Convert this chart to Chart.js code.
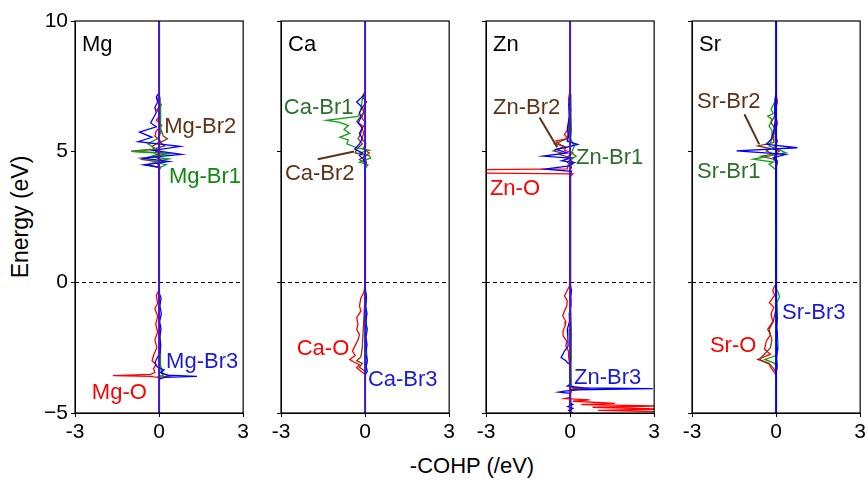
<!DOCTYPE html>
<html>
<head>
<meta charset="utf-8">
<script src="https://cdn.jsdelivr.net/npm/chart.js@4/dist/chart.umd.min.js"></script>
<style>
    body { margin: 0; background: #fff; overflow: hidden; }
    #root { position: relative; width: 868px; height: 483px; }
    #root canvas { position: absolute; top: 0; }
    .axis-title { position: absolute; font-family: 'Liberation Sans', Arial, sans-serif; color: #000; white-space: nowrap; }
</style>
</head>
<body>
<div id="root">
    <div class="axis-title" id="ytitle">Energy (eV)</div>
    <div class="axis-title" id="xtitle">-COHP (/eV)</div>
</div>
<script>
// axis ranges and tick labels
const energyMin = -5;
const energyMax = 10;
const energyTicks = [-5, 0, 5, 10];
const cohpMin = -3;
const cohpMax = 3;
const cohpTicks = [-3, 0, 3];

const panelNames = ['Mg', 'Ca', 'Zn', 'Sr'];

// each series: [energy (eV), -COHP (/eV)] pairs
const mgO = [[7.2,0],[7.0,-0.05],[6.8,0.08],[6.6,-0.08],[6.4,0.05],[6.2,-0.1],[6.0,0.1],[5.8,-0.1],[5.6,-0.15],[5.4,0.05],[5.2,-0.25],[5.0,-0.1],[4.9,0.2],[4.8,-0.15],[4.65,0.15],[4.5,-0.05],[4.38,0.05],[4.3,0],
    [-0.3,0],[-0.5,-0.1],[-0.8,-0.05],[-1.0,-0.15],[-1.3,-0.05],[-1.6,-0.12],[-1.9,-0.05],[-2.2,-0.15],[-2.5,-0.08],[-2.8,-0.2],[-3.0,-0.25],[-3.15,-0.1],[-3.3,-0.2],[-3.45,-0.15],[-3.52,-0.3],[-3.57,-1.65],[-3.6,-0.3],[-3.65,0],[-3.8,0]];
const mgBr1 = [[7.2,0],[6.8,0.05],[6.4,0.05],[6.0,0.05],[5.7,0.06],[5.5,-0.05],[5.3,-0.4],[5.1,-0.1],[5.0,-0.95],[4.92,0.35],[4.8,-0.3],[4.72,0.35],[4.6,-0.2],[4.5,0.25],[4.38,0],[4.3,0],
    [-0.5,0],[-2.0,0.03],[-3.2,0.05],[-3.55,0.15],[-3.62,-0.05],[-3.7,0]];
const mgBr2 = [[7.1,0],[6.5,0.03],[5.9,0.05],[5.6,0.15],[5.5,0.3],[5.35,0.05],[5.22,0.2],[5.1,-0.2],[5.02,-1.0],[4.95,0.1],[4.85,-0.2],[4.7,-0.6],[4.6,0.05],[4.5,-0.45],[4.4,0],[4.3,0],
    [-0.5,0],[-1.5,0.03],[-2.5,0.05],[-3.2,0.05],[-3.5,0.1],[-3.58,0.45],[-3.63,0.05],[-3.7,0]];
const mgBr3 = [[7.25,0],[7.1,-0.1],[6.9,-0.05],[6.7,-0.15],[6.5,-0.1],[6.3,-0.2],[6.1,-0.3],[5.95,-0.1],[5.75,-0.7],[5.55,-0.25],[5.38,-0.75],[5.2,0.75],[5.05,-0.2],[4.9,0.8],[4.75,-0.6],[4.62,0.35],[4.5,-0.55],[4.4,0],
    [-0.4,0],[-0.6,0.07],[-0.9,0.03],[-1.2,0.08],[-1.5,0.02],[-1.8,0.07],[-2.1,0.02],[-2.4,0.06],[-2.7,0.03],[-2.95,-0.1],[-3.1,-0.15],[-3.25,-0.05],[-3.35,0.18],[-3.45,0.05],[-3.55,0.3],[-3.6,1.35],[-3.64,0.2],[-3.7,0]];

const caO = [[7.3,0],[7.1,-0.1],[6.9,0.05],[6.7,-0.1],[6.5,-0.05],[6.3,-0.12],[6.1,0.02],[5.9,-0.1],[5.7,-0.05],[5.5,-0.12],[5.3,0.03],[5.1,-0.08],[4.95,0.15],[4.8,-0.05],[4.6,0.05],[4.4,0],
    [-0.15,0],[-0.4,-0.05],[-0.6,-0.15],[-0.9,-0.2],[-1.1,-0.15],[-1.35,-0.3],[-1.6,-0.25],[-1.8,-0.3],[-2.0,-0.2],[-2.2,-0.25],[-2.45,-0.37],[-2.63,-0.45],[-2.8,-0.35],[-2.95,-0.55],[-3.05,-0.4],[-3.15,-0.2],[-3.27,-0.3],[-3.4,-0.15],[-3.52,0]];
const caBr1 = [[7.3,0],[7.0,-0.1],[6.6,-0.15],[6.35,-0.25],[6.2,-1.38],[6.12,-0.9],[6.0,-0.6],[5.85,-0.75],[5.7,-0.55],[5.55,-0.9],[5.45,-0.6],[5.3,-0.65],[5.15,-0.3],[5.05,0.15],[4.95,-0.2],[4.85,0.15],[4.75,0.2],[4.6,-0.2],[4.5,0.1],[4.35,0],
    [-0.2,0],[-0.5,0.05],[-1.0,0.02],[-1.5,0.05],[-2.0,0.02],[-2.6,0.05],[-3.0,0.08],[-3.3,0.03],[-3.5,0]];
const caBr2 = [[7.0,0],[6.5,-0.05],[6.15,-0.3],[6.0,-0.1],[5.7,-0.15],[5.5,-0.25],[5.3,-0.1],[5.1,-0.3],[4.95,-0.35],[4.85,0.05],[4.7,-0.2],[4.55,0.05],[4.4,0],
    [-0.5,0],[-1.5,-0.05],[-2.5,-0.1],[-2.85,-0.15],[-3.0,-0.3],[-3.1,-0.1],[-3.25,-0.2],[-3.4,0]];
const caBr3 = [[7.2,0],[6.9,-0.3],[6.7,-0.1],[6.5,-0.2],[6.3,-0.15],[6.1,-0.25],[5.9,-0.1],[5.7,-0.2],[5.5,-0.1],[5.3,-0.2],[5.1,-0.37],[4.95,-0.1],[4.85,-0.2],[4.7,-0.05],[4.5,0],
    [-0.3,0],[-0.6,0.05],[-0.9,0.02],[-1.2,0.07],[-1.5,0.02],[-1.8,0.08],[-2.1,0.03],[-2.4,0.07],[-2.7,0.02],[-3.0,0.08],[-3.2,0.03],[-3.4,0.08],[-3.55,0]];

const znO = [[7.4,0],[7.0,-0.05],[6.6,0.03],[6.2,-0.05],[5.9,-0.05],[5.66,-0.2],[5.5,-0.1],[5.41,-0.5],[5.3,-0.4],[5.15,-0.15],[5.05,-0.2],[4.95,0.1],[4.8,-0.1],[4.6,0.1],[4.4,-0.1],[4.34,-0.1],[4.31,-3.3],[4.18,-3.3],[4.15,0.1],[4.05,0],
    [-0.1,0],[-0.3,-0.1],[-0.52,-0.2],[-0.7,-0.1],[-0.91,-0.12],[-1.1,-0.2],[-1.29,-0.26],[-1.5,-0.15],[-1.67,-0.18],[-1.85,-0.25],[-2.05,-0.25],[-2.25,-0.12],[-2.44,-0.15],[-2.65,-0.05],[-2.88,-0.05],[-3.2,0],[-3.9,0],[-4.03,0.1],[-4.06,0.7],[-4.1,0.05],[-4.4,0],[-4.45,-0.2],[-4.5,0.7],[-4.55,0.1],[-4.63,1.6],[-4.68,0.4],[-4.73,3.3],[-4.78,0.8],[-4.85,3.3],[-4.9,1.0],[-4.95,3.3],[-5.0,3.3]];
const znBr1 = [[7.2,0],[6.5,0.03],[5.8,0.05],[5.5,0.02],[5.2,0.15],[5.09,0.1],[4.95,0.05],[4.83,0.22],[4.7,0],[4.55,0.1],[4.4,0],
    [-0.2,0],[-1.5,0.03],[-2.9,0.05],[-3.1,0.02],[-4.0,0.05],[-4.1,0]];
const znBr2 = [[7.0,0],[6.0,-0.03],[5.5,-0.1],[5.3,-0.55],[5.2,-0.2],[5.03,-0.6],[4.95,-0.3],[4.9,-0.4],[4.75,0.1],[4.6,-0.1],[4.4,0.05],[4.3,0],
    [-0.2,0],[-1.0,0.03],[-2.0,0.05],[-3.0,0.03],[-3.95,0.02],[-4.05,0.3],[-4.1,0],[-4.9,0.05],[-5.0,0]];
const znBr3 = [[7.3,0],[6.8,-0.05],[6.3,-0.03],[5.9,-0.1],[5.6,-0.05],[5.4,-0.1],[5.28,0.27],[5.15,-0.2],[5.09,-0.5],[4.95,-0.1],[4.83,-0.96],[4.75,0],[4.65,-0.3],[4.58,0.15],[4.45,-0.1],[4.33,-0.9],[4.25,0.05],[4.1,0],
    [-0.1,0],[-0.3,0.05],[-0.6,0.02],[-0.9,0.03],[-1.2,-0.03],[-1.5,-0.02],[-1.8,-0.1],[-2.1,-0.08],[-2.44,-0.07],[-2.63,-0.2],[-2.88,-0.32],[-3.0,-0.15],[-3.07,-0.1],[-3.14,0],[-3.9,0],[-3.97,-0.1],[-4.04,0.5],[-4.07,2.95],[-4.11,0.3],[-4.16,-0.2],[-4.2,-0.41],[-4.25,0],[-4.6,0],[-4.68,0.1],[-4.75,-0.08],[-4.82,0.1],[-4.9,-0.05],[-5.0,0.1]];

const srO = [[7.2,0],[6.9,0.05],[6.5,-0.05],[6.1,0.05],[5.7,-0.05],[5.4,0.05],[5.1,-0.1],[5.03,0.12],[4.9,-0.05],[4.71,-0.06],[4.55,0.05],[4.4,0],
    [-0.1,0],[-0.14,-0.05],[-0.3,-0.12],[-0.5,-0.05],[-0.78,-0.24],[-0.95,-0.08],[-1.2,-0.18],[-1.5,-0.12],[-1.8,-0.3],[-2.0,-0.2],[-2.25,-0.35],[-2.56,-0.41],[-2.75,-0.2],[-2.95,-0.65],[-3.1,-0.25],[-3.25,-0.2],[-3.46,-0.05],[-3.55,0]];
const srBr1 = [[7.25,0],[6.9,-0.05],[6.62,-0.18],[6.45,-0.1],[6.36,-0.3],[6.24,-0.15],[6.1,-0.2],[5.98,-0.25],[5.79,-0.14],[5.6,-0.15],[5.54,-0.12],[5.35,-0.2],[5.22,-0.25],[5.1,0.05],[4.96,0.35],[4.85,-0.2],[4.71,-0.82],[4.6,-0.1],[4.52,-0.25],[4.39,-0.1],[4.3,0],
    [-0.1,0],[-0.14,-0.05],[-0.4,0.08],[-0.55,0.12],[-0.78,0.03],[-1.2,0.05],[-1.8,0.02],[-2.2,0.06],[-2.56,0.07],[-2.8,0],[-2.95,-0.4],[-3.1,-0.05],[-3.3,0.02],[-3.45,0]];
const srBr2 = [[7.2,0],[6.8,-0.05],[6.4,-0.03],[6.11,-0.18],[5.9,-0.05],[5.6,-0.1],[5.35,-0.08],[5.22,-0.65],[5.12,-0.2],[5.03,-0.35],[4.9,-0.1],[4.83,-0.53],[4.71,-0.1],[4.6,0],[4.4,0],
    [-1.0,0],[-1.5,-0.1],[-1.8,-0.25],[-2.2,-0.15],[-2.5,-0.2],[-2.95,-0.6],[-3.15,-0.2],[-3.35,-0.05],[-3.5,0]];
const srBr3 = [[7.25,0],[7.0,-0.03],[6.6,-0.05],[6.2,-0.03],[5.8,-0.08],[5.47,-0.18],[5.28,-0.35],[5.15,0.76],[5.03,-1.41],[4.9,0.35],[4.77,-0.1],[4.64,0.05],[4.5,0],
    [-0.5,0],[-0.8,0.03],[-1.1,0.01],[-1.4,0.04],[-1.7,0.02],[-2.0,0.05],[-2.3,0.02],[-2.6,0.05],[-2.9,0.02],[-3.2,0.04],[-3.5,0]];

const seriesByPanel = [
    { O: mgO, Br1: mgBr1, Br2: mgBr2, Br3: mgBr3 },
    { O: caO, Br1: caBr1, Br2: caBr2, Br3: caBr3 },
    { O: znO, Br1: znBr1, Br2: znBr2, Br3: znBr3 },
    { O: srO, Br1: srBr1, Br2: srBr2, Br3: srBr3 },
];

// styling / layout
const FONT = "'Liberation Sans', Arial, sans-serif";
const lineColors = { O: '#ff0000', Br2: '#7a3d12', Br1: '#10a010', Br3: '#0000ff' };
// chart.js paints dataset 0 last, so the top-most line comes first
const stackOrder = ['Br3', 'Br1', 'Br2', 'O'];
const zeroLineColors = ['#4a12d0', '#3a14dc', '#4a12d0', '#0000ff'];
const brown = '#5c3317';
const darkGreen = '#2c6e2c';
const plotLefts = [75, 281, 486, 692];
const plotWidth = 170;
const axisSpace = 45;

const notes = [
    [
        { text: 'Mg', color: '#000', x: -2.75, y: 9.1, size: 22 },
        { text: 'Mg-Br2', color: brown, x: 0.18, y: 5.93 },
        { text: 'Mg-Br1', color: '#128a12', x: 0.35, y: 4.02 },
        { text: 'Mg-Br3', color: '#1a1ad8', x: 0.25, y: -3.06 },
        { text: 'Mg-O', color: '#ff0000', x: -2.4, y: -4.25 },
    ],
    [
        { text: 'Ca', color: '#000', x: -2.75, y: 9.1, size: 22 },
        { text: 'Ca-Br1', color: darkGreen, x: -2.9, y: 6.66 },
        { text: 'Ca-Br2', color: brown, x: -2.86, y: 4.13 },
        { text: 'Ca-O', color: '#ff0000', x: -2.44, y: -2.53 },
        { text: 'Ca-Br3', color: '#1a1ad8', x: 0.1, y: -3.75 },
    ],
    [
        { text: 'Zn', color: '#000', x: -2.75, y: 9.1, size: 22 },
        { text: 'Zn-Br2', color: brown, x: -2.75, y: 6.66 },
        { text: 'Zn-Br1', color: darkGreen, x: 0.21, y: 4.75 },
        { text: 'Zn-O', color: '#ff0000', x: -2.86, y: 3.56 },
        { text: 'Zn-Br3', color: '#1a1ad8', x: 0.14, y: -3.64 },
    ],
    [
        { text: 'Sr', color: '#000', x: -2.75, y: 9.1, size: 22 },
        { text: 'Sr-Br2', color: brown, x: -2.82, y: 6.89 },
        { text: 'Sr-Br1', color: darkGreen, x: -2.82, y: 4.21 },
        { text: 'Sr-O', color: '#ff0000', x: -2.36, y: -2.45 },
        { text: 'Sr-Br3', color: '#1a1ad8', x: 0.21, y: -1.19 },
    ],
];

const leaders = [
    [],
    [{ x1: -1.69, y1: 4.71, x2: -0.39, y2: 5.01 }],
    [{ x1: -1.09, y1: 6.31, x2: -0.46, y2: 5.17 }],
    [{ x1: -1.13, y1: 6.43, x2: -0.6, y2: 5.28 }],
];

const toPoints = pairs => pairs.map(([e, v]) => ({ x: v, y: e }));

const framePlugin = {
    id: 'frame',
    beforeDatasetsDraw(chart) {
        const { ctx, chartArea: a, scales } = chart;
        const y0 = scales.y.getPixelForValue(0);
        ctx.save();
        ctx.strokeStyle = '#000';
        ctx.lineWidth = 1;
        ctx.setLineDash([4, 3]);
        ctx.beginPath();
        ctx.moveTo(a.left, Math.round(y0) + 0.5);
        ctx.lineTo(a.right, Math.round(y0) + 0.5);
        ctx.stroke();
        ctx.restore();
    },
    afterDraw(chart) {
        const { ctx, chartArea: a, scales } = chart;
        const idx = chart.options.plugins.frame.panel;
        ctx.save();
        ctx.strokeStyle = '#000';
        ctx.lineWidth = 1.2;
        ctx.strokeRect(a.left, a.top, a.right - a.left, a.bottom - a.top);

        ctx.strokeStyle = brown;
        ctx.lineWidth = 2;
        leaders[idx].forEach(l => {
            ctx.beginPath();
            ctx.moveTo(scales.x.getPixelForValue(l.x1), scales.y.getPixelForValue(l.y1));
            ctx.lineTo(scales.x.getPixelForValue(l.x2), scales.y.getPixelForValue(l.y2));
            ctx.stroke();
        });

        ctx.textAlign = 'left';
        ctx.textBaseline = 'middle';
        notes[idx].forEach(n => {
            ctx.font = `${n.size || 22}px ${FONT}`;
            ctx.fillStyle = n.color;
            ctx.fillText(n.text, scales.x.getPixelForValue(n.x), scales.y.getPixelForValue(n.y));
        });
        ctx.restore();
    }
};

const _createPanel = (idx) => {
    const canvas = document.createElement('canvas');
    canvas.width = axisSpace + plotWidth + 7;
    canvas.height = 450;
    canvas.style.left = (plotLefts[idx] - axisSpace) + 'px';
    document.getElementById('root').appendChild(canvas);

    const series = seriesByPanel[idx];
    const datasets = [{
        label: 'zero',
        data: [{ x: 0, y: energyMin }, { x: 0, y: energyMax }],
        borderColor: zeroLineColors[idx],
        borderWidth: 2,
        showLine: true,
        pointRadius: 0,
        clip: 0,
    }];
    stackOrder.forEach(key => datasets.push({
        label: `${panelNames[idx]}-${key}`,
        data: toPoints(series[key]),
        borderColor: lineColors[key],
        borderWidth: 1.3,
        showLine: true,
        pointRadius: 0,
        tension: 0,
        clip: 0,
    }));

    return new Chart(canvas, {
        type: 'scatter',
        data: { datasets },
        options: {
            responsive: false,
            animation: false,
            devicePixelRatio: 1,
            layout: { padding: { left: 0, right: 7, top: 21, bottom: 0 } },
            plugins: {
                legend: { display: false },
                tooltip: { enabled: false },
                frame: { panel: idx },
            },
            scales: {
                x: {
                    type: 'linear',
                    min: cohpMin,
                    max: cohpMax,
                    afterFit: s => { s.height = 37; },
                    afterBuildTicks: s => { s.ticks = cohpTicks.map(v => ({ value: v })); },
                    grid: { drawOnChartArea: false, drawTicks: true, tickLength: 4, color: '#000' },
                    border: { display: true, color: '#000', width: 1 },
                    ticks: {
                        color: '#000',
                        padding: 3,
                        maxRotation: 0,
                        font: { family: FONT, size: 21 },
                    },
                },
                y: {
                    type: 'linear',
                    min: energyMin,
                    max: energyMax,
                    afterFit: s => { s.width = axisSpace; },
                    afterBuildTicks: s => { s.ticks = energyTicks.map(v => ({ value: v })); },
                    grid: { drawOnChartArea: false, drawTicks: true, tickLength: 4, color: '#000' },
                    border: { display: true, color: '#000', width: 1 },
                    ticks: {
                        display: idx === 0,
                        color: '#000',
                        padding: 3,
                        font: { family: FONT, size: 21 },
                        callback: v => v < 0 ? '\u2212' + Math.abs(v) : String(v),
                    },
                },
            },
        },
        plugins: [framePlugin],
    });
};

panelNames.forEach((name, i) => _createPanel(i));

const yt = document.getElementById('ytitle');
yt.style.fontSize = '23px';
yt.style.left = '20px';
yt.style.top = '217px';
yt.style.transform = 'translate(-50%, -50%) rotate(-90deg)';
const xt = document.getElementById('xtitle');
xt.style.fontSize = '22px';
xt.style.left = '472px';
xt.style.top = '466px';
xt.style.transform = 'translate(-50%, -50%)';
</script>
</body>
</html>
